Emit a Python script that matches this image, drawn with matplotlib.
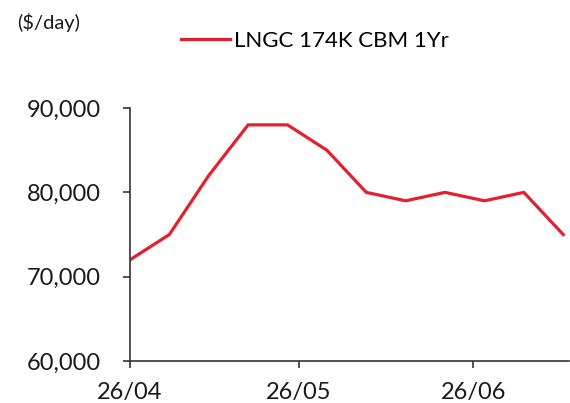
import matplotlib
matplotlib.use('Agg')
import matplotlib.pyplot as plt
import matplotlib.dates as mdates
import matplotlib.ticker as ticker
import datetime as dt

# weekly LNGC 174K CBM 1Yr time charter rate
dates = ['2024-04-26', '2024-05-03', '2024-05-10', '2024-05-17', '2024-05-24', '2024-05-31',
         '2024-06-07', '2024-06-14', '2024-06-21', '2024-06-28', '2024-07-05', '2024-07-12']
rates = [72000, 75000, 82000, 88000, 88000, 85000, 80000, 79000, 80000, 79000, 80000, 75000]
tick_dates = ['2024-04-26', '2024-05-26', '2024-06-26']
series_name = 'LNGC 174K CBM 1Yr'
unit_label = '($/day)'

plt.rcParams['font.family'] = ['Lato', 'DejaVu Sans']
plt.rcParams['font.weight'] = 400

x = [dt.datetime.strptime(d, '%Y-%m-%d') for d in dates]
xt = [dt.datetime.strptime(d, '%Y-%m-%d') for d in tick_dates]

fig = plt.figure(figsize=(5.7, 4.03), dpi=100)
ax = fig.add_axes([0.228, 0.104, 0.77, 0.628])

line, = ax.plot(x, rates, color='#e3202e', lw=2.3, solid_joinstyle='miter')

ax.set_ylim(60000, 90000)
ax.set_xlim(xt[0], x[-1] + dt.timedelta(days=1))
ax.set_yticks([60000, 70000, 80000, 90000])
ax.yaxis.set_major_formatter(ticker.FuncFormatter(lambda v, p: f'{int(v):,}'))
ax.set_xticks(xt)
ax.xaxis.set_major_formatter(mdates.DateFormatter('%d/%m'))

for s in ['top', 'right']:
    ax.spines[s].set_visible(False)
for s in ['left', 'bottom']:
    ax.spines[s].set_color('#333333')
    ax.spines[s].set_linewidth(1.2)
ax.tick_params(axis='both', direction='out', length=5, width=1.2, color='#333333',
               labelsize=17, labelcolor='#1a1a1a')
ax.tick_params(axis='y', pad=16)
ax.tick_params(axis='x', pad=10)

fig.text(0.03, 0.945, unit_label, fontsize=14.5, color='#1a1a1a', va='center')
fig.legend([line], [series_name], loc='center left', bbox_to_anchor=(0.282, 0.898),
           frameon=False, fontsize=16, handlelength=2.2, handletextpad=0.2)

fig.savefig('out.png', dpi=100)
